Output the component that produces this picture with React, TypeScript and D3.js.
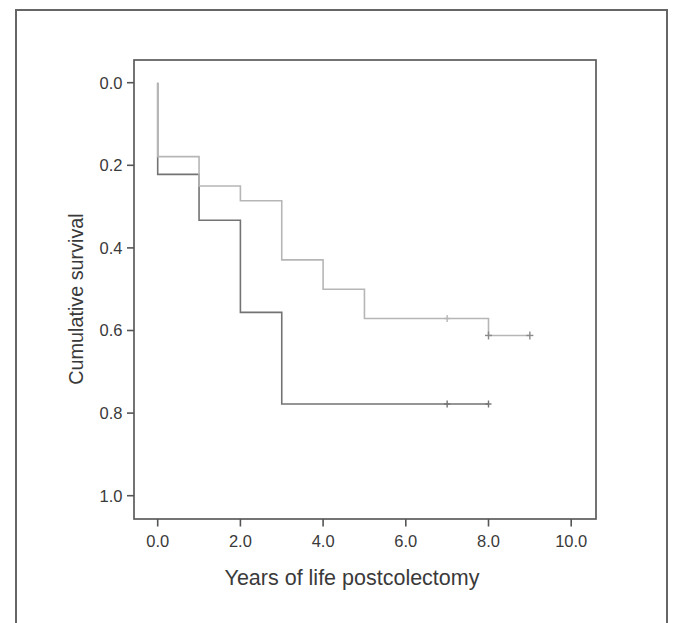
import React from "react";
import * as d3 from "d3";

// Step points (time in years, cumulative value) for each group
const lightTimes = [0, 0, 1, 2, 3, 4, 5, 8, 9];
const lightValues = [0, 0.179, 0.25, 0.286, 0.429, 0.5, 0.571, 0.612, 0.612];
const lightCensorTimes = [7, 8, 9];
const lightCensorValues = [0.571, 0.612, 0.612];

const darkTimes = [0, 0, 1, 2, 3, 8];
const darkValues = [0, 0.222, 0.333, 0.556, 0.778, 0.778];
const darkCensorTimes = [7, 8];
const darkCensorValues = [0.778, 0.778];

const xTicks = [0, 2, 4, 6, 8, 10];
const yTicks = [0, 0.2, 0.4, 0.6, 0.8, 1.0];

const xTitle = "Years of life postcolectomy";
const yTitle = "Cumulative survival";

export default function App() {
  const W = 674;
  const H = 623;
  const frame = { left: 134, top: 60, right: 596, bottom: 519 };
  const x = d3.scaleLinear().domain([0, 10]).range([157.7, 571.2]);
  const y = d3.scaleLinear().domain([0, 1]).range([82.7, 495.7]);
  const line = d3
    .line<[number, number]>()
    .x((d) => x(d[0]))
    .y((d) => y(d[1]))
    .curve(d3.curveStepAfter);

  const lightPts = lightTimes.map((t, i) => [t, lightValues[i]] as [number, number]);
  const darkPts = darkTimes.map((t, i) => [t, darkValues[i]] as [number, number]);

  const font = "'Liberation Sans', Arial, Helvetica, sans-serif";
  const textColor = "#3a3a3a";
  const darkColor = "#737373";
  const lightColor = "#b6b6b6";

  const cross = (cx: number, cy: number, color: string, key: string, s = 3.5) => (
    <g key={key} stroke={color} strokeWidth={1.4}>
      <line x1={cx - s} x2={cx + s} y1={cy} y2={cy} />
      <line x1={cx} x2={cx} y1={cy - s - 0.5} y2={cy + s + 0.5} />
    </g>
  );

  return (
    <svg
      width={W}
      height={H}
      style={{ position: "absolute", left: 0, top: 0, background: "#fff" }}
    >
      <rect x={0} y={0} width={W} height={H} fill="#fff" />
      {/* outer frame (open at bottom) */}
      <rect x={16} y={10} width={651} height={640} fill="none" stroke="#666" strokeWidth={2} />

      {/* plot frame */}
      <rect
        x={frame.left}
        y={frame.top}
        width={frame.right - frame.left}
        height={frame.bottom - frame.top}
        fill="none"
        stroke="#5c5c5c"
        strokeWidth={1.7}
      />

      {/* y ticks */}
      {yTicks.map((v) => (
        <g key={"y" + v}>
          <line x1={frame.left - 7} x2={frame.left} y1={y(v)} y2={y(v)} stroke="#555" strokeWidth={1.6} />
          <text
            x={frame.left - 11.5}
            y={y(v)}
            dy="0.36em"
            textAnchor="end"
            fontFamily={font}
            fontSize={16.5}
            fill={textColor}
          >
            {v.toFixed(1)}
          </text>
        </g>
      ))}

      {/* x ticks */}
      {xTicks.map((t) => (
        <g key={"x" + t}>
          <line x1={x(t)} x2={x(t)} y1={frame.bottom} y2={frame.bottom + 7.5} stroke="#555" strokeWidth={1.6} />
          <text
            x={x(t)}
            y={547}
            textAnchor="middle"
            fontFamily={font}
            fontSize={16.5}
            fill={textColor}
          >
            {t.toFixed(1)}
          </text>
        </g>
      ))}

      {/* axis titles */}
      <text x={352} y={585} textAnchor="middle" fontFamily={font} fontSize={21.5} fill={textColor}>
        {xTitle}
      </text>
      <text
        transform="translate(83,299) rotate(-90)"
        textAnchor="middle"
        fontFamily={font}
        fontSize={19.8}
        fill={textColor}
      >
        {yTitle}
      </text>

      {/* curves */}
      <path d={line(darkPts) || ""} fill="none" stroke={darkColor} strokeWidth={1.6} />
      <path d={line(lightPts) || ""} fill="none" stroke={lightColor} strokeWidth={1.6} />

      {/* censor marks */}
      {darkCensorTimes.map((t, i) => cross(x(t), y(darkCensorValues[i]), darkColor, "dc" + i, 3))}
      {lightCensorTimes.map((t, i) =>
        cross(x(t), y(lightCensorValues[i]), i === 0 ? lightColor : "#8a8a8a", "lc" + i, i === 0 ? 3 : 3.5)
      )}
    </svg>
  );
}
